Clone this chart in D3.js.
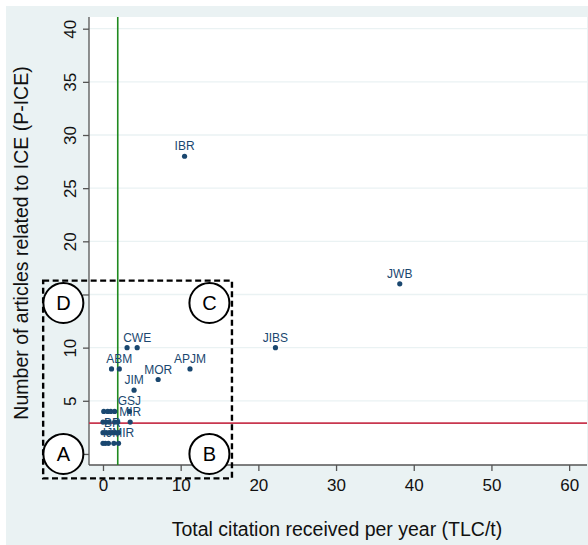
<!DOCTYPE html>
<html>
<head>
<meta charset="utf-8">
<script src="https://cdn.jsdelivr.net/npm/d3@7"></script>
<style>
  body { margin: 0; background: #fff; }
  svg { display: block; font-family: "Liberation Sans", Arial, sans-serif; }
</style>
</head>
<body>
<svg id="chart" width="588" height="545"></svg>
<script>
// journals: citations per year (x) vs number of ICE articles (y)
const labels = ["IBR", "JWB", "JIBS", "APJM", "MOR", "JIM", "CWE", "", "ABM", "",
  "GSJ", "MIR", "BR", "IJMIR"];
const xValues = [10.5, 38.2, 22.2, 11.2, 7.1, 4.0, 4.4, 3.1, 2.1, 1.1,
  3.4, 3.5, 1.2, 2.0];
const yValues = [28, 16, 10, 8, 7, 6, 10, 10, 8, 8,
  4, 3, 2, 1];

// unlabelled dots packed near the origin
const clusterX = [0.1, 0.6, 1.0, 1.5, 0.0, 0.4, 0.8, 1.5, 1.9, 0.0, 0.4, 0.8, 1.6, 2.0, 0.0, 0.3, 0.7, 1.4];
const clusterY = [4, 4, 4, 4, 3, 3, 3, 3, 3, 2, 2, 2, 2, 2, 1, 1, 1, 1];

const xTicks = [0, 10, 20, 30, 40, 50, 60];
const yTicks = [5, 10, 15, 20, 25, 30, 35, 40];

const meanX = 1.9;  // green line
const meanY = 2.9;  // red line

// quadrant box + letters, in data units
const box = {x0: -7.7, x1: 16.6, y0: -2.3, y1: 16.3};
const quadrants = [
  {name: "D", x: -5.1, y: 14.2}, {name: "C", x: 13.7, y: 14.2},
  {name: "A", x: -5.1, y: 0}, {name: "B", x: 13.7, y: 0}
];

const svg = d3.select("#chart");
const W = 588, H = 545;
const plot = {left: 89, right: 587, top: 17, bottom: 465};
const navy = "#1a476f";

const x = d3.scaleLinear().domain([-1.8, 62.3]).range([plot.left, plot.right]);
const y = d3.scaleLinear().domain([-1.04, 41.1]).range([plot.bottom, plot.top]);

svg.append("rect").attr("x", 6).attr("y", 6).attr("width", W - 6).attr("height", H - 6)
  .attr("fill", "#eaf2f3");
svg.append("rect").attr("x", plot.left).attr("y", plot.top)
  .attr("width", plot.right - plot.left).attr("height", plot.bottom - plot.top)
  .attr("fill", "#fff");

// grid
svg.append("g").selectAll("line").data(yTicks).join("line")
  .attr("x1", plot.left).attr("x2", plot.right)
  .attr("y1", d => y(d)).attr("y2", d => y(d))
  .attr("stroke", "#eaf2f3").attr("stroke-width", 1.3);

// axes
const xAxis = svg.append("g").attr("transform", `translate(0,${plot.bottom})`)
  .call(d3.axisBottom(x).tickValues(xTicks).tickSize(6).tickPadding(8).tickSizeOuter(0));
const yAxis = svg.append("g").attr("transform", `translate(${plot.left},0)`)
  .call(d3.axisLeft(y).tickValues([0].concat(yTicks)).tickSize(6).tickPadding(6).tickSizeOuter(0));
[xAxis, yAxis].forEach(g => {
  g.select(".domain").attr("stroke", "#555").attr("stroke-width", 1.3);
  g.selectAll(".tick line").attr("stroke", "#555").attr("stroke-width", 1.3);
  g.selectAll(".tick text").attr("fill", "#111").style("font-size", "17px")
    .style("font-family", "Liberation Sans, Arial, sans-serif");
});
xAxis.select(".domain").attr("d", `M${plot.left},0H${plot.right}`);
yAxis.select(".domain").attr("d", `M0,${plot.bottom}V${plot.top}`);
yAxis.selectAll(".tick text")
  .attr("transform", "translate(-19,0) rotate(-90)")
  .attr("x", 0).attr("dy", "0.35em").attr("text-anchor", "middle");

// reference lines
svg.append("line").attr("x1", x(meanX)).attr("x2", x(meanX))
  .attr("y1", plot.top).attr("y2", plot.bottom)
  .attr("stroke", "#1f8a1f").attr("stroke-width", 1.6);
svg.append("line").attr("x1", plot.left).attr("x2", plot.right)
  .attr("y1", y(meanY)).attr("y2", y(meanY))
  .attr("stroke", "#c8374f").attr("stroke-width", 1.6);

// dots
svg.append("g").selectAll("circle").data(clusterX).join("circle")
  .attr("cx", d => x(d)).attr("cy", (d, i) => y(clusterY[i])).attr("r", 2.6)
  .attr("fill", navy);
const pts = labels.map((l, i) => ({label: l, x: xValues[i], y: yValues[i]}));
svg.append("g").selectAll("circle").data(pts).join("circle")
  .attr("cx", d => x(d.x)).attr("cy", d => y(d.y)).attr("r", 2.6)
  .attr("fill", navy);
svg.append("g").selectAll("text").data(pts.filter(d => d.label)).join("text")
  .attr("x", d => x(d.x)).attr("y", d => y(d.y) - 6)
  .attr("text-anchor", "middle").attr("fill", navy)
  .style("font-size", "12px").text(d => d.label);

// quadrant box
svg.append("rect").attr("x", x(box.x0)).attr("y", y(box.y1))
  .attr("width", x(box.x1) - x(box.x0)).attr("height", y(box.y0) - y(box.y1))
  .attr("fill", "none").attr("stroke", "#000").attr("stroke-width", 2.4)
  .attr("stroke-dasharray", "6,3.5");
const q = svg.append("g").selectAll("g").data(quadrants).join("g")
  .attr("transform", d => `translate(${x(d.x)},${y(d.y)})`);
q.append("circle").attr("r", 20).attr("fill", "#fff").attr("stroke", "#000").attr("stroke-width", 2);
q.append("text").attr("text-anchor", "middle").attr("dy", "0.36em")
  .style("font-size", "20px").attr("fill", "#000").text(d => d.name);

// axis titles
svg.append("text").attr("x", 337).attr("y", 536)
  .attr("text-anchor", "middle").style("font-size", "19.5px").attr("fill", "#111")
  .text("Total citation received per year (TLC/t)");
svg.append("text").attr("transform", "translate(28,243) rotate(-90)")
  .attr("text-anchor", "middle").style("font-size", "19.5px").attr("fill", "#111")
  .text("Number of articles related to ICE (P-ICE)");
</script>
</body>
</html>
